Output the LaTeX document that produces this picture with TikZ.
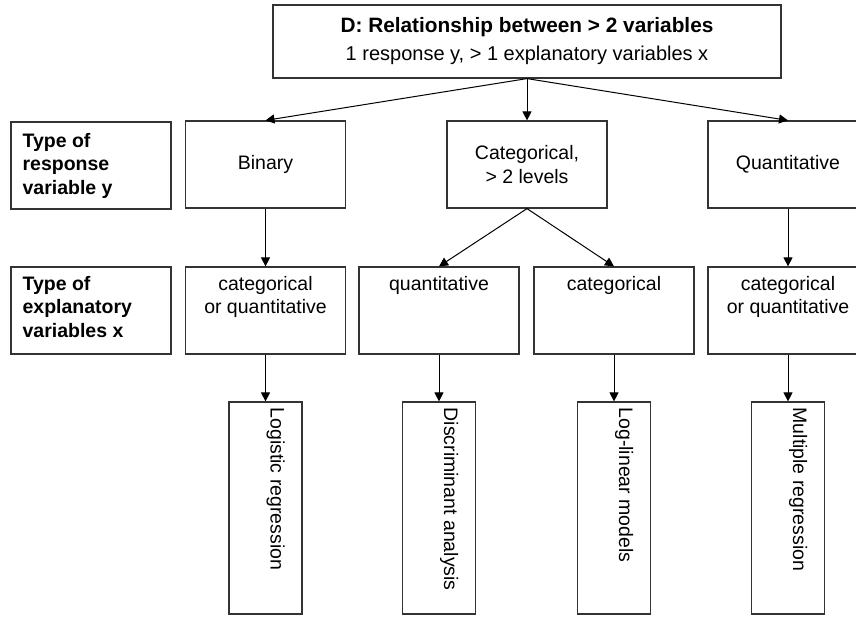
\documentclass[tikz,border=0pt]{standalone}
\usepackage{fontspec}
\setmainfont{Liberation Sans}
\usetikzlibrary{arrows.meta}
\newcommand\myfont{\fontsize{19.5}{23.5}\selectfont}
\begin{document}
\begin{tikzpicture}[x=1pt,y=-1pt,
  box/.style={draw=black!80, line width=1.2pt, minimum width=160pt, minimum height=87pt, inner sep=0pt, font=\myfont, align=center},
  resbox/.style={draw=black!80, line width=1.2pt, minimum width=73pt, minimum height=212pt, inner sep=0pt},
  txt/.style={inner sep=0pt, font=\myfont, align=center},
  labtxt/.style={inner sep=0pt, font=\myfont\bfseries, align=left},
  rottxt/.style={inner sep=0pt, font=\myfont, rotate=-90, anchor=base west},
  conn/.style={draw=black, line width=1pt, -{Triangle[length=9pt,width=9pt]}}
]
\useasboundingbox (0,0) rectangle (856,616);

% top box
\node[draw=black!80, line width=1.2pt, minimum width=508pt, minimum height=73pt, inner sep=0pt,
      align=center, font=\fontsize{20}{28}\selectfont] (top) at (527,41.5)
  {{\bfseries\fontsize{20.8}{28}\selectfont D: Relationship between > 2 variables}\\1 response y, > 1 explanatory variables x};

% row 1
\node[box] (lab1) at (91,165.5) {};
\node[labtxt, anchor=west] at ([xshift=12pt]lab1.west) {Type of\\response\\variable y};
\node[box] (bin) at (265.5,164.5) {Binary};
\node[box] (cat) at (527,164.5) {Categorical,\\> 2 levels};
\node[box] (qua) at (788,164.5) {Quantitative};

% row 2
\node[box] (lab2) at (91,310.5) {};
\node[labtxt, anchor=north west] at ([xshift=12pt,yshift=-9.5pt]lab2.north west) {Type of\\explanatory\\variables x};
\node[box] (e1) at (265.5,310.5) {};
\node[txt, anchor=north] at ([yshift=-9.5pt]e1.north) {categorical\\or quantitative};
\node[box] (e2) at (439,310.5) {};
\node[txt, anchor=north] at ([yshift=-9.5pt]e2.north) {quantitative};
\node[box] (e3) at (614,310.5) {};
\node[txt, anchor=north] at ([yshift=-9.5pt]e3.north) {categorical};
\node[box] (e4) at (788,310.5) {};
\node[txt, anchor=north] at ([yshift=-9.5pt]e4.north) {categorical\\or quantitative};

% row 3
\node[resbox] (m1) at (265.5,508) {};
\node[rottxt] at ([xshift=5pt,yshift=-6pt]m1.north) {Logistic regression};
\node[resbox] (m2) at (439,508) {};
\node[rottxt] at ([xshift=5pt,yshift=-6pt]m2.north) {Discriminant analysis};
\node[resbox] (m3) at (614,508) {};
\node[rottxt] at ([xshift=5pt,yshift=-6pt]m3.north) {Log-linear models};
\node[resbox] (m4) at (788,508) {};
\node[rottxt] at ([xshift=5pt,yshift=-6pt]m4.north) {Multiple regression};

% connectors
\draw[conn] (top.south) -- (bin.north);
\draw[conn] (top.south) -- (cat.north);
\draw[conn] (top.south) -- (qua.north);
\draw[conn] (bin.south) -- (e1.north);
\draw[conn] (cat.south) -- (e2.north);
\draw[conn] (cat.south) -- (e3.north);
\draw[conn] (qua.south) -- (e4.north);
\draw[conn] (e1.south) -- (m1.north);
\draw[conn] (e2.south) -- (m2.north);
\draw[conn] (e3.south) -- (m3.north);
\draw[conn] (e4.south) -- (m4.north);
\end{tikzpicture}
\end{document}
